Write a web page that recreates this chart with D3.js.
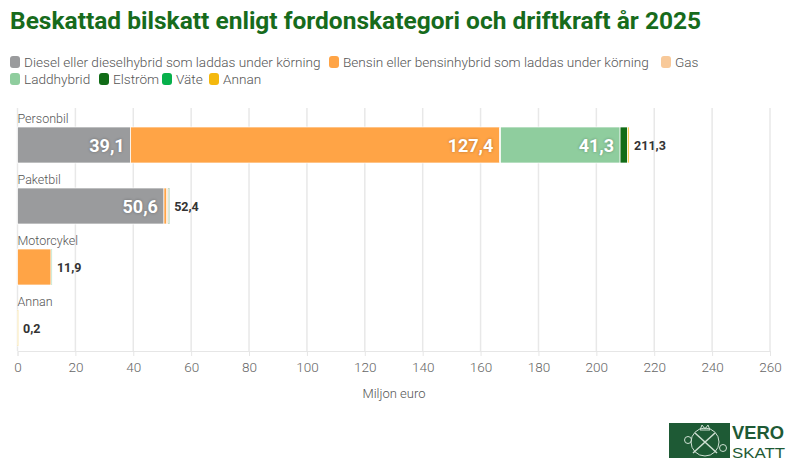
<!DOCTYPE html>
<html><head><meta charset="utf-8">
<script src="https://cdn.jsdelivr.net/npm/d3@7"></script>
<style>
body{margin:0;background:#fff;}
svg{display:block;font-family:"Liberation Sans Narrow","Roboto",sans-serif;}
</style></head>
<body><svg id="c" width="794" height="473"></svg>
<script>
const categories = ["Personbil","Paketbil","Motorcykel","Annan"];
const seriesNames = ["Diesel eller dieselhybrid som laddas under körning","Bensin eller bensinhybrid som laddas under körning","Gas","Laddhybrid","Elström","Väte","Annan"];
const seriesColors = ["#9a9b9d","#ffa446","#f8c999","#8fcd9e","#116c17","#07b04b","#f4b80e"];
const diesel     = [39.1, 50.6, 0,    0];
const bensin     = [127.4, 1.0, 11.6, 0];
const gas        = [0.4,  0.4,  0,    0];
const laddhybrid = [41.3, 0.2,  0.3,  0];
const elstrom    = [2.6,  0.2,  0,    0];
const vate       = [0,    0,    0,    0];
const annan      = [0.5,  0,    0,    0.2];
const totals     = [211.3, 52.4, 11.9, 0.2];
const xTicks = [0,20,40,60,80,100,120,140,160,180,200,220,240,260];
const fmt = v => d3.format(".1f")(v).replace(".", ",");

const seriesValues = [diesel,bensin,gas,laddhybrid,elstrom,vate,annan];
const svg = d3.select("#c");
const x = d3.scaleLinear().domain([0,260]).range([17.5,770]);
const bh = 36;
// band step 61px, first bar top at 127
const y = d3.scaleBand().domain(categories).range([127-12.5, 127-12.5+61*4]).paddingInner(0).paddingOuter(0);
const barTop = c => y(c) + (y.bandwidth()-bh)/2;

// title
svg.append("text").attr("x",10).attr("y",29).attr("fill","#176b1c")
  .attr("font-family","'Liberation Sans Narrow','Roboto',sans-serif")
  .attr("font-weight","bold").attr("font-size",24.5)
  .text("Beskattad bilskatt enligt fordonskategori och driftkraft år 2025");

// legend
const legendRows = [[0,1,2],[3,4,5,6]];
const legendX = [[10,329,661],[10,99,162,209]];
legendRows.forEach((row,ri)=>{
  row.forEach((si,j)=>{
    const g = svg.append("g").attr("transform",`translate(${legendX[ri][j]},${ri?73:56})`);
    g.append("rect").attr("width",10).attr("height",12).attr("rx",3).attr("fill",seriesColors[si]);
    g.append("text").attr("x",14).attr("y",10.5).attr("font-family","Roboto,sans-serif").attr("font-weight",300).attr("font-size",13.6).attr("fill","#555").text(seriesNames[si]);
  });
});

// grid
svg.append("g").selectAll("line").data(xTicks).join("line")
  .attr("x1",d=>x(d)).attr("x2",d=>x(d)).attr("y1",108).attr("y2",351)
  .attr("stroke","#e8e8e8").attr("stroke-width",1.5);

// axis
const ax = svg.append("g").attr("transform","translate(0,351)")
  .call(d3.axisBottom(x).tickValues(xTicks).tickSize(5).tickPadding(6).tickFormat(d=>d));
ax.select(".domain").attr("stroke","#e6e6e6");
ax.selectAll(".tick line").attr("stroke","#e6e6e6");
ax.selectAll("text").attr("font-family","Roboto,sans-serif").attr("font-weight",300).attr("font-size",13.5).attr("fill","#666");
svg.append("text").attr("x",394).attr("y",398).attr("text-anchor","middle")
  .attr("font-family","Roboto,sans-serif").attr("font-weight",300).attr("font-size",13).attr("fill","#555").text("Miljon euro");

// stacks
const rows = categories.map((c,i)=>{
  const o={cat:c}; seriesNames.forEach((s,k)=>o[s]=seriesValues[k][i]); return o;});
const stack = d3.stack().keys(seriesNames)(rows);
stack.forEach((layer,k)=>{
  svg.append("g").selectAll("rect").data(layer.filter(d=>d[1]-d[0]>0)).join("rect")
    .attr("x",d=>x(d[0])).attr("width",d=>Math.max(1,x(d[1])-x(d[0])))
    .attr("y",d=>barTop(d.data.cat)).attr("height",bh)
    .attr("fill",seriesColors[k]).attr("stroke","#fff").attr("stroke-width",0.7);
});

// category labels
svg.append("g").selectAll("text").data(categories).join("text")
  .attr("x",17.5).attr("y",d=>barTop(d)-4)
  .attr("font-family","Roboto,sans-serif").attr("font-weight",300).attr("font-size",12.5).attr("fill","#555").text(d=>d);

// inside labels
stack.forEach((layer,k)=>{
  svg.append("g").selectAll("text").data(layer.filter(d=>d[1]-d[0]>15)).join("text")
    .attr("x",d=>x(d[1])-6).attr("y",d=>barTop(d.data.cat)+bh/2+6.5)
    .attr("text-anchor","end").attr("font-family","Roboto,sans-serif").attr("font-weight","bold")
    .attr("font-size",18).attr("fill","#fff")
    .attr("style","text-shadow:0 0 3px rgba(0,0,0,0.3)")
    .text(d=>fmt(d[1]-d[0]));
});

// totals
svg.append("g").selectAll("text").data(categories).join("text")
  .attr("x",(d,i)=>x(totals[i])+5).attr("y",d=>barTop(d)+bh/2+4.5)
  .attr("font-family","Roboto,sans-serif").attr("font-weight","bold").attr("font-size",12.5).attr("fill","#333")
  .text((d,i)=>fmt(totals[i]));

// logo
const lg = svg.append("g").attr("transform","translate(669,423)");
lg.append("rect").attr("width",61).attr("height",35).attr("fill","#1e5a35");
lg.append("circle").attr("cx",36).attr("cy",19).attr("r",14).attr("fill","none").attr("stroke","#cfe0d3").attr("stroke-width",1);
lg.append("line").attr("x1",24).attr("y1",30).attr("x2",46).attr("y2",10).attr("stroke","#cfe0d3").attr("stroke-width",1.5);
lg.append("line").attr("x1",26).attr("y1",10).attr("x2",48).attr("y2",30).attr("stroke","#cfe0d3").attr("stroke-width",1.5);
lg.append("path").attr("d","M31 7 L33 2 L36 6 L39 2 L41 7 Z").attr("fill","none").attr("stroke","#cfe0d3");
lg.append("circle").attr("cx",19).attr("cy",17).attr("r",3.5).attr("fill","none").attr("stroke","#cfe0d3");
lg.append("circle").attr("cx",54).attr("cy",25).attr("r",3.5).attr("fill","none").attr("stroke","#cfe0d3");
lg.append("text").attr("x",63).attr("y",16).attr("font-family","'Liberation Sans Narrow',sans-serif").attr("font-weight","bold").attr("font-size",19).attr("textLength",52).attr("lengthAdjust","spacingAndGlyphs").attr("fill","#1e5a35").text("VERO");
lg.append("text").attr("x",63).attr("y",35).attr("font-family","'Liberation Sans Narrow',sans-serif").attr("font-size",15.5).attr("textLength",53).attr("lengthAdjust","spacingAndGlyphs").attr("fill","#1e5a35").text("SKATT");
</script></body></html>
